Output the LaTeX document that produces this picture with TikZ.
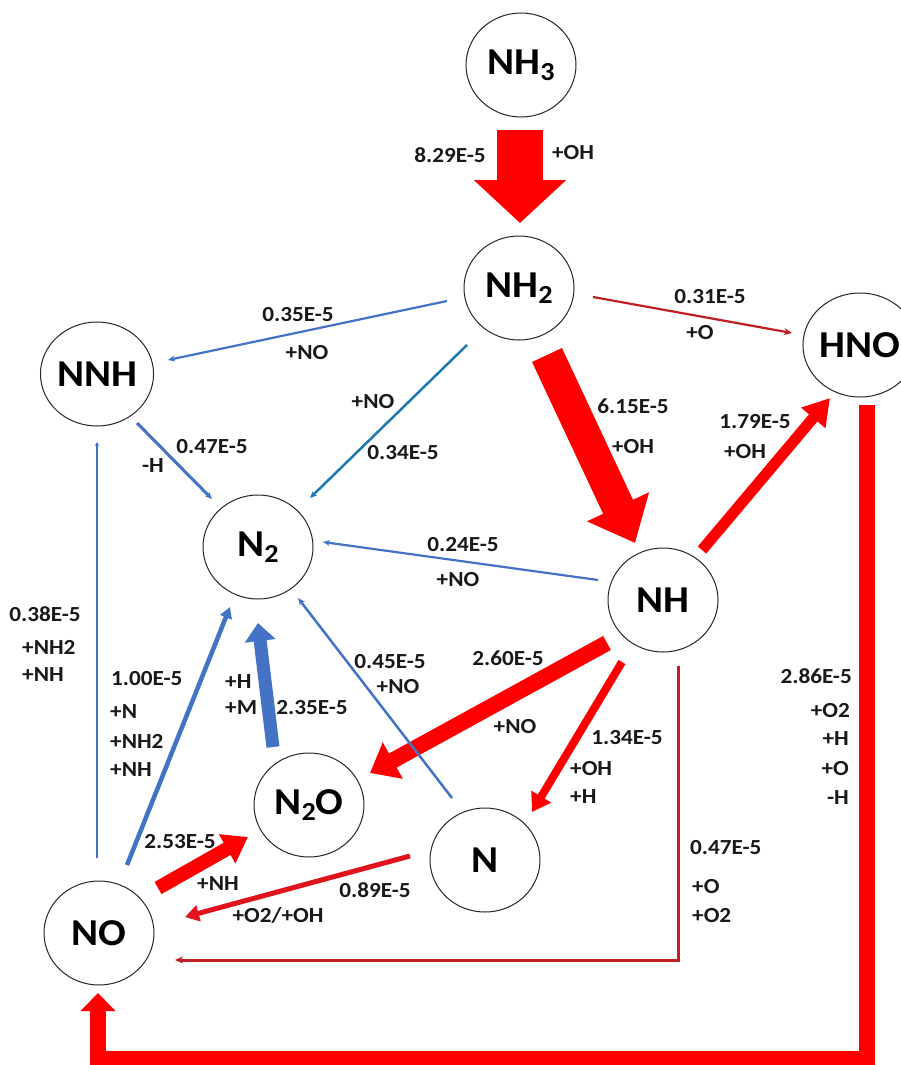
\documentclass[tikz,border=0pt]{standalone}
\usepackage{fontspec}
\setmainfont{Carlito}
\newfontfamily\widefont[FakeStretch=1.08]{Carlito}
\usetikzlibrary{shapes.geometric,arrows.meta,calc}
\definecolor{fred}{RGB}{255,0,0}
\definecolor{mred}{RGB}{225,20,30}
\definecolor{dred}{RGB}{192,30,35}
\definecolor{nblue}{RGB}{68,114,196}
\definecolor{tblue}{RGB}{31,120,175}
\newcommand{\chsub}[1]{\raisebox{-0.32ex}{\fontsize{26}{26}\selectfont #1}}
\begin{document}
\begin{tikzpicture}[x=1pt,y=-1pt,
  species/.style={ellipse, draw=black!85, line width=1pt, minimum width=110pt, minimum height=104pt, inner sep=0pt, font=\widefont\fontsize{38}{40}\selectfont\bfseries},
  lab/.style={font=\widefont\fontsize{21.5}{24}\selectfont\bfseries, inner sep=0pt, text=black!90},
  bluelink/.style={nblue, line width=#1, -{Stealth[length=7pt,width=6pt]}},
  bluelink/.default=2.2pt,
  redlink/.style={dred, line width=#1, -{Stealth[length=8pt,width=7pt]}},
  redlink/.default=2.2pt]
\useasboundingbox (0,0) rectangle (901,1065);
\clip (0,0) rectangle (901,1065);
\fill[white] (0,0) rectangle (901,1065);

% species
\node[species] (NH3) at (521,65) {NH\chsub{3}};
\node[species] (NH2) at (519,288) {NH\chsub{2}};
\node[species] (HNO) at (860,345) {HNO};
\node[species] (NNH) at (97,374) {NNH};
\node[species] (N2) at (258,547) {N\chsub{2}};
\node[species] (NH) at (663,600) {NH};
\node[species] (N2O) at (309,805) {N\chsub{2}O};
\node[species] (N) at (485,860) {N};
\node[species] (NO) at (99,933) {NO};

\coordinate (c1) at (867,1059);
\coordinate (c2) at (98,1059);
\coordinate (c3) at (678,960);

% red pathways
\draw[fred, line width=46pt, -{Triangle[length=43pt,width=90pt]}] ($(NH3)+(-1,65)$) -- ($(NH2)+(1,-65)$);
\draw[fred, line width=33pt, -{Triangle[length=40pt,width=66pt]}] ($(NH2)+(28,67)$) -- ($(NH)+(-28,-57)$);
\draw[fred, line width=11pt, -{Triangle[length=26pt,width=30pt]}] ($(NH)+(39,-50)$) -- ($(HNO)+(-30,53)$);
\draw[fred, line width=16pt, -{Triangle[length=26pt,width=40pt]}] ($(NH)+(-56,43)$) -- ($(N2O)+(61,-32)$);
\draw[fred, line width=8pt, -{Triangle[length=18pt,width=22pt]}] ($(NH)+(-41,62)$) -- ($(N)+(47,-48)$);
\draw[fred, line width=14pt, -{Triangle[length=24pt,width=32pt]}] ($(NO)+(59,-45)$) -- ($(N2O)+(-61,32)$);
\draw[mred, line width=5pt, -{Triangle[length=14pt,width=16pt]}] ($(N)+(-75,-4)$) -- ($(NO)+(86,-16)$);
\draw[fred, line width=16pt, -{Triangle[length=18pt,width=34pt]}] ($(HNO)+(7,60)$) -- (c1) -- (c2) -- ($(NO)+(-1,60)$);
\draw[redlink=3pt] ($(NH)+(15,66)$) -- (c3) -- ($(NO)+(76,27)$);
\draw[redlink] ($(NH2)+(74,9)$) -- ($(HNO)+(-68,-12)$);

% blue pathways
\draw[nblue, line width=2.2pt, -{Stealth[length=4pt,width=4pt]}] ($(NO)+(-2,-75)$) -- ($(NNH)+(0,68)$);
\draw[nblue, line width=4.5pt, -{Triangle[length=11pt,width=12pt]}] ($(NO)+(28,-68)$) -- ($(N2)+(-28,60)$);
\draw[bluelink=3pt] ($(NNH)+(40,49)$) -- ($(N2)+(-46,-48)$);
\draw[nblue, line width=13pt, -{Triangle[length=18pt,width=30pt]}] ($(N2O)+(-36,-58)$) -- ($(N2)+(0,76)$);
\draw[bluelink=2.5pt] ($(N)+(-33,-62)$) -- ($(N2)+(40,51)$);
\draw[bluelink] ($(NH)+(-65,-20)$) -- ($(N2)+(65,-5)$);
\draw[bluelink] ($(NH2)+(-72,13)$) -- ($(NNH)+(71,-14)$);
\draw[bluelink=2.5pt, tblue] ($(NH2)+(-52,57)$) -- ($(N2)+(52,-49)$);

% labels
\node[lab] (l1) at (450,155) {8.29E-5};
\node[lab] (l2) at (573,153) {+OH};
\node[lab] (l3) at (298,315) {0.35E-5};
\node[lab] (l4) at (307,353) {+NO};
\node[lab] (l5) at (373,402) {+NO};
\node[lab] (l6) at (403,453) {0.34E-5};
\node[lab] (l7) at (212,447) {0.47E-5};
\node[lab] (l8) at (153,466) {-H};
\node[lab] (l9) at (710,297) {0.31E-5};
\node[lab] (l10) at (700,333) {+O};
\node[lab] (l11) at (633,406) {6.15E-5};
\node[lab] (l12) at (633,447) {+OH};
\node[lab] (l13) at (755,422) {1.79E-5};
\node[lab] (l14) at (745,452) {+OH};
\node[lab] (l15) at (463,545) {0.24E-5};
\node[lab] (l16) at (458,580) {+NO};
\node[lab] (l17) at (45,614) {0.38E-5};
\node[lab, anchor=west] (l18) at (22,647) {+NH2};
\node[lab, anchor=west] (l19) at (22,675) {+NH};
\node[lab, anchor=west] (l20) at (111,679) {1.00E-5};
\node[lab, anchor=west] (l21) at (110,712) {+N};
\node[lab, anchor=west] (l22) at (110,741) {+NH2};
\node[lab, anchor=west] (l23) at (110,770) {+NH};
\node[lab, anchor=west] (l24) at (225,682) {+H};
\node[lab, anchor=west] (l25) at (225,708) {+M};
\node[lab] (l26) at (312,708) {2.35E-5};
\node[lab] (l27) at (390,662) {0.45E-5};
\node[lab] (l28) at (398,687) {+NO};
\node[lab] (l29) at (508,658) {2.60E-5};
\node[lab] (l30) at (515,727) {+NO};
\node[lab] (l31) at (627,738) {1.34E-5};
\node[lab, anchor=west] (l32) at (570,769) {+OH};
\node[lab, anchor=west] (l33) at (570,797) {+H};
\node[lab, anchor=east] (l34) at (852,676) {2.86E-5};
\node[lab, anchor=east] (l35) at (850,711) {+O2};
\node[lab, anchor=east] (l36) at (849,739) {+H};
\node[lab, anchor=east] (l37) at (849,769) {+O};
\node[lab, anchor=east] (l38) at (849,798) {-H};
\node[lab, anchor=west] (l39) at (690,848) {0.47E-5};
\node[lab, anchor=west] (l40) at (692,887) {+O};
\node[lab, anchor=west] (l41) at (692,916) {+O2};
\node[lab] (l42) at (180,842) {2.53E-5};
\node[lab] (l43) at (218,884) {+NH};
\node[lab] (l44) at (375,890) {0.89E-5};
\node[lab] (l45) at (278,915) {+O2/+OH};
\end{tikzpicture}
\end{document}
